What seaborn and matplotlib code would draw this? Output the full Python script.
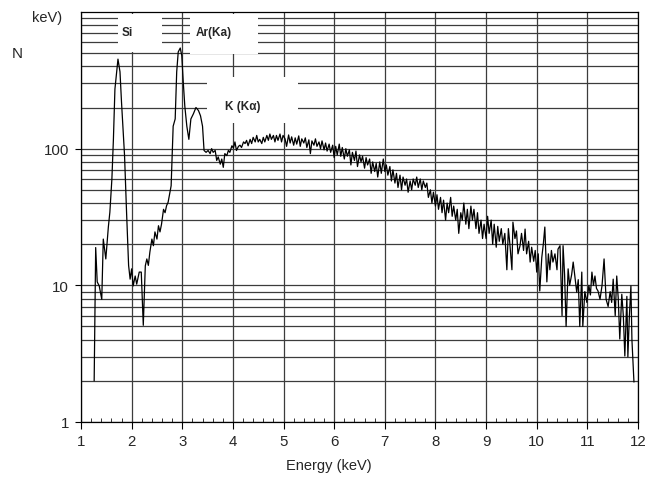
import numpy as np
import pandas as pd
import matplotlib
matplotlib.use("Agg")
import matplotlib.pyplot as plt
import seaborn as sns
from matplotlib.ticker import LogLocator, NullFormatter, MultipleLocator, FixedLocator, FixedFormatter
from matplotlib.patches import Rectangle

# ---------------- data ----------------
energy = [
    1.26, 1.29, 1.32, 1.36, 1.41, 1.44, 1.49, 1.54, 1.57, 1.61, 1.64, 1.67, 1.73, 1.77, 1.80,
    1.86, 1.90, 1.94, 1.97, 2.00, 2.03, 2.07, 2.10, 2.15, 2.19, 2.23, 2.27, 2.30, 2.33, 2.36,
    2.40, 2.43, 2.46, 2.50, 2.53, 2.56, 2.59, 2.63, 2.66, 2.69, 2.72, 2.78, 2.82, 2.86, 2.89,
    2.92, 2.96, 2.99, 3.02, 3.05, 3.09, 3.13, 3.17, 3.22, 3.27, 3.32, 3.36, 3.40, 3.43, 3.47,
    3.51, 3.55, 3.58, 3.61, 3.65, 3.68, 3.71, 3.75, 3.78, 3.81, 3.84, 3.88, 3.91, 3.94, 3.98,
    4.01, 4.04, 4.07, 4.11, 4.14, 4.17, 4.21, 4.24, 4.27, 4.30, 4.34, 4.37, 4.40, 4.44, 4.47,
    4.50, 4.53, 4.57, 4.60, 4.63, 4.67, 4.70, 4.73, 4.76, 4.80, 4.83, 4.86, 4.89, 4.93, 4.96,
    4.99, 5.03, 5.06, 5.10, 5.13, 5.16, 5.20, 5.23, 5.26, 5.30, 5.33, 5.36, 5.40, 5.43, 5.46,
    5.50, 5.53, 5.56, 5.60, 5.63, 5.66, 5.70, 5.73, 5.76, 5.80, 5.83, 5.86, 5.90, 5.93, 5.97,
    6.00, 6.03, 6.06, 6.10, 6.13, 6.16, 6.20, 6.23, 6.26, 6.30, 6.33, 6.36, 6.40, 6.43, 6.46,
    6.50, 6.53, 6.56, 6.60, 6.63, 6.66, 6.70, 6.73, 6.76, 6.80, 6.83, 6.86, 6.90, 6.93, 6.97,
    7.00, 7.03, 7.06, 7.10, 7.13, 7.16, 7.20, 7.23, 7.26, 7.30, 7.33, 7.36, 7.40, 7.43, 7.46,
    7.50, 7.53, 7.56, 7.60, 7.63, 7.66, 7.70, 7.73, 7.76, 7.80, 7.83, 7.86, 7.90, 7.93, 7.96,
    8.00, 8.03, 8.06, 8.10, 8.13, 8.16, 8.20, 8.23, 8.26, 8.30, 8.33, 8.36, 8.40, 8.43, 8.46,
    8.50, 8.53, 8.56, 8.60, 8.63, 8.66, 8.70, 8.73, 8.76, 8.80, 8.83, 8.86, 8.90, 8.93, 8.96,
    9.00, 9.03, 9.06, 9.10, 9.13, 9.16, 9.20, 9.23, 9.26, 9.30, 9.33, 9.37, 9.41, 9.44, 9.47,
    9.51, 9.53, 9.57, 9.60, 9.63, 9.67, 9.70, 9.74, 9.77, 9.80, 9.84, 9.87, 9.90, 9.94, 9.97,
    10.00, 10.03, 10.06, 10.10, 10.13, 10.16, 10.20, 10.23, 10.26, 10.29, 10.32, 10.36, 10.40, 10.42, 10.46,
    10.50, 10.52, 10.55, 10.58, 10.62, 10.65, 10.69, 10.72, 10.76, 10.79, 10.82, 10.85, 10.89, 10.91, 10.95,
    10.99, 11.03, 11.06, 11.09, 11.12, 11.15, 11.18, 11.21, 11.25, 11.29, 11.33, 11.37, 11.41, 11.45, 11.48,
    11.51, 11.55, 11.58, 11.61, 11.64, 11.68, 11.71, 11.74, 11.78, 11.80, 11.83, 11.86, 11.88, 11.92,
]
counts = [
    2.0, 18.9, 10.6, 9.9, 7.9, 21.8, 15.6, 26.7, 34.3, 60, 117, 273, 452, 365, 219,
    89, 34, 14, 11.1, 13.2, 9.9, 11.7, 10.2, 12.5, 12.5, 5.1, 13.9, 15.6, 14, 17.5,
    21.8, 19.5, 24.6, 21.8, 27.3, 24.6, 28, 36, 34, 38.3, 40.5, 53.5, 146, 165, 365,
    510, 545, 480, 305, 205, 146, 117, 165, 180, 200, 190, 174, 146, 97, 94,
    97, 92, 100, 94, 97, 82, 87, 77, 84, 73, 92, 89, 97, 94, 105,
    101, 112, 97, 104, 106, 102, 112, 109, 115, 105, 117, 109, 121, 112, 125,
    112, 117, 109, 121, 112, 125, 115, 128, 117, 125, 112, 125, 115, 128, 112,
    125, 118, 104, 126, 110, 122, 106, 120, 108, 124, 104, 118, 110, 120, 102,
    116, 92, 114, 106, 118, 104, 112, 100, 114, 98, 110, 96, 108, 94, 106,
    86, 104, 90, 108, 88, 102, 84, 100, 88, 98, 76, 94, 82, 96, 74,
    90, 80, 88, 72, 86, 76, 84, 66, 80, 68, 78, 62, 80, 66, 84,
    68, 76, 64, 74, 58, 70, 56, 66, 52, 64, 50, 62, 54, 60, 48,
    58, 50, 60, 54, 62, 52, 60, 50, 58, 52, 56, 44, 50, 40, 48,
    38, 46, 36, 44, 34, 42, 30, 40, 34, 44, 32, 38, 30, 36, 24,
    34, 30, 40, 28, 36, 26, 38, 30, 36, 26, 34, 24, 30, 22, 28,
    22, 32, 24, 30, 20, 28, 19, 27, 21, 26, 20, 24, 13, 26, 20,
    13, 29, 22, 25, 17, 19.5, 24, 18, 25.8, 17, 21, 14.8, 19, 15, 18,
    12.5, 17, 9.1, 16, 20, 26.7, 10.6, 17, 13, 18, 14.8, 17, 13, 18.4, 19.5,
    6, 19.5, 12, 5, 13.2, 10, 12, 14.8, 11, 8.9, 11, 5, 12.5, 5, 9,
    7.5, 10, 8.5, 12.5, 10, 11.7, 9.5, 9.1, 7.9, 10, 15.6, 7.9, 7, 9, 7.5,
    11.1, 6, 11.7, 8, 4.05, 8.6, 6, 3.04, 8.3, 3.0, 6, 9.9, 4.0, 1.96,
]
peak_labels = ["Si", "Ar(Ka)", "K (K\u03b1)"]
x_ticks = list(range(1, 13))
y_ticks = [1, 10, 100]
y_tick_labels = ["1", "10", "100"]

# ---------------- figure ----------------
sns.set_theme(style="white")
plt.rcParams['font.family'] = ['Liberation Sans', 'DejaVu Sans']

W, H = 655, 481
fig = plt.figure(figsize=(W / 100, H / 100), dpi=100)
L, R, T, B = 81, 638, 13, 423
ax = fig.add_axes([L / W, 1 - B / H, (R - L) / W, (B - T) / H])

df = pd.DataFrame({"Energy": energy, "N": counts})
sns.lineplot(data=df, x="Energy", y="N", ax=ax, color="black", linewidth=0.9,
             estimator=None, sort=False, zorder=3)

ax.set_yscale("log")
ax.set_xlim(1, 12)
ax.set_ylim(1, 1000)

# ticks
ax.xaxis.set_major_locator(FixedLocator(x_ticks))
ax.xaxis.set_minor_locator(MultipleLocator(0.2))
ax.yaxis.set_major_locator(FixedLocator(y_ticks))
ax.yaxis.set_major_formatter(FixedFormatter(y_tick_labels))
ax.yaxis.set_minor_locator(LogLocator(base=10, subs=np.arange(2, 10)))
ax.yaxis.set_minor_formatter(NullFormatter())

ax.tick_params(axis="x", which="major", direction="out", length=5, width=0.8,
               color="black", labelsize=10.8, pad=4, bottom=True)
ax.tick_params(axis="x", which="minor", direction="in", length=3, width=0.7,
               color="#333333", bottom=True)
ax.tick_params(axis="y", which="major", direction="out", length=4.5, width=0.8,
               color="black", labelsize=10.8, pad=4, left=True)
ax.tick_params(axis="y", which="minor", length=0)

# grid
gcol = "#3c3c3c"
ax.grid(True, which="major", axis="both", color=gcol, linewidth=0.9)
ax.grid(True, which="minor", axis="y", color=gcol, linewidth=0.9)
ax.set_axisbelow(True)

for s in ax.spines.values():
    s.set_color("black")
    s.set_linewidth(0.9)

ax.set_xlabel("")
ax.set_ylabel("")

# white label areas
def fx(px):
    return (px - L) / (R - L)

def fy(py):
    return (B - py) / (B - T)

for (x0, y0, x1, y1) in [(118, 15, 162, 53), (190, 15, 258, 55), (207, 78, 298, 124)]:
    ax.add_patch(Rectangle((fx(x0), fy(y1)), fx(x1) - fx(x0), fy(y0) - fy(y1),
                           transform=ax.transAxes, facecolor="white", edgecolor="none",
                           zorder=1.5))

ax.text(fx(127), fy(33), peak_labels[0], transform=ax.transAxes, ha="center", va="center",
        fontsize=8.5, fontweight="bold", zorder=4)
ax.text(fx(214), fy(33), peak_labels[1], transform=ax.transAxes, ha="center", va="center",
        fontsize=8.5, fontweight="bold", zorder=4)
ax.text(fx(243), fy(107), peak_labels[2], transform=ax.transAxes, ha="center", va="center",
        fontsize=8.5, fontweight="bold", zorder=4)

# outer texts
fig.text(17.5 / W, 1 - 54 / H, "N", ha="center", va="center", fontsize=11)
fig.text(32 / W, 1 - 18 / H, "keV)", ha="left", va="center", fontsize=10.5)
fig.text(329 / W, 1 - 466 / H, "Energy (keV)", ha="center", va="center", fontsize=10.5)

fig.savefig("out.png", dpi=100, facecolor="white")
